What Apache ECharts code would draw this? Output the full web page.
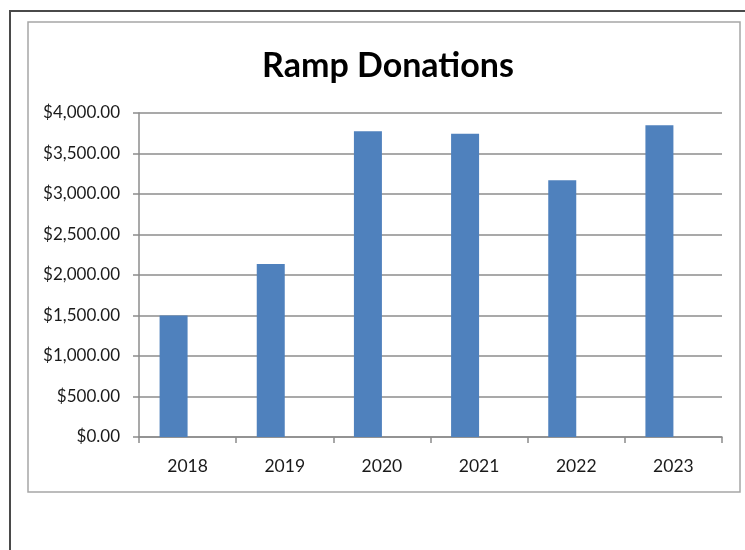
<!DOCTYPE html>
<html>
<head>
<meta charset="utf-8">
<script src="https://cdn.jsdelivr.net/npm/echarts@6/dist/echarts.min.js"></script>
<style>
html,body{margin:0;padding:0;background:#fff;}
#chart{width:745px;height:550px;}
</style>
</head>
<body>
<div id="chart"></div>
<script>
const categories = ['2018', '2019', '2020', '2021', '2022', '2023'];
const donations = [1500, 2135, 3775, 3745, 3170, 3850];
const titleText = 'Ramp Donations';

const chart = echarts.init(document.getElementById('chart'), null, {renderer: 'canvas'});
const fontFam = 'Lato, "Open Sans", sans-serif';
chart.setOption({
  animation: false,
  backgroundColor: '#ffffff',
  title: {
    text: titleText,
    left: 383,
    textAlign: 'center',
    top: 44,
    textStyle: {fontFamily: fontFam, fontWeight: 'bold', fontSize: 34, color: '#000'}
  },
  graphic: [
    {type: 'polyline', shape: {points: [[10, 550], [10, 11], [745, 11]]}, style: {stroke: '#4a4a4a', lineWidth: 2, fill: null}},
    {type: 'rect', shape: {x: 28, y: 22, width: 712, height: 470}, style: {stroke: '#a6a6a6', lineWidth: 1.5, fill: null}}
  ],
  grid: {left: 139, top: 113, right: 23, bottom: 113, containLabel: false},
  xAxis: {
    type: 'category',
    data: categories,
    axisLine: {lineStyle: {color: '#8c8c8c', width: 1.5}},
    axisTick: {show: true, alignWithLabel: false, length: 6, lineStyle: {color: '#8c8c8c', width: 1.5}},
    axisLabel: {fontFamily: fontFam, fontSize: 17.5, color: '#1a1a1a', margin: 20}
  },
  yAxis: {
    type: 'value',
    min: 0, max: 4000, interval: 500,
    axisLine: {show: true, lineStyle: {color: '#8c8c8c', width: 1.5}},
    axisTick: {show: true, length: 6, lineStyle: {color: '#8c8c8c', width: 1.5}},
    splitLine: {lineStyle: {color: '#8c8c8c', width: 1.5}},
    axisLabel: {
      fontFamily: fontFam, fontSize: 17, color: '#1a1a1a', margin: 19,
      formatter: v => '$' + v.toLocaleString('en-US', {minimumFractionDigits: 2, maximumFractionDigits: 2})
    }
  },
  series: [{
    type: 'bar',
    data: donations,
    barWidth: 28,
    barGap: '0%',
    itemStyle: {color: '#4f81bd'}
  }, {
    type: 'bar',
    data: [],
    barWidth: 28,
    barGap: '0%',
    itemStyle: {color: '#c0504d'}
  }]
});
</script>
</body>
</html>
